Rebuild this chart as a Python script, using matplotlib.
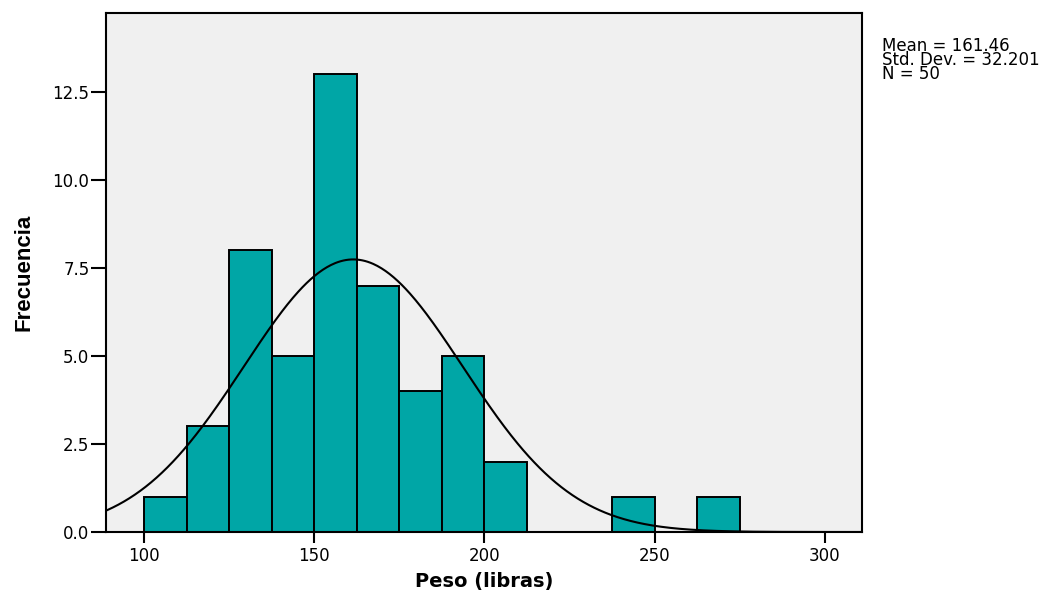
import numpy as np
import matplotlib.pyplot as plt

# Peso (libras) histogram, bin width 12.5
bin_edges = [100, 112.5, 125, 137.5, 150, 162.5, 175, 187.5, 200, 212.5,
             225, 237.5, 250, 262.5, 275]
counts = [1, 3, 8, 5, 13, 7, 4, 5, 2, 0, 0, 1, 0, 1]
mean_w = 161.46
std_w = 32.201
n_obs = 50
y_ticks = [0.0, 2.5, 5.0, 7.5, 10.0, 12.5]
x_ticks = [100, 150, 200, 250, 300]

plt.rcParams["font.family"] = ["DejaVu Sans"]

fig = plt.figure(figsize=(10.49, 5.91), dpi=100)
ax = fig.add_axes([0.1011, 0.0998, 0.7207, 0.878])
ax.set_facecolor("#f0f0f0")

widths = np.diff(bin_edges)
ax.bar(bin_edges[:-1], counts, width=widths, align="edge",
       color="#00a6a6", edgecolor="black", linewidth=1.4, zorder=2)

# normal curve scaled to counts
xs = np.linspace(80, 320, 600)
bw = bin_edges[1] - bin_edges[0]
ys = n_obs * bw / (std_w * np.sqrt(2 * np.pi)) * np.exp(-0.5 * ((xs - mean_w) / std_w) ** 2)
ax.plot(xs, ys, color="black", linewidth=1.5, zorder=3)

ax.set_xlim(88.8, 311)
ax.set_ylim(0, 14.74)
ax.set_xticks(x_ticks)
ax.set_yticks(y_ticks)
ax.set_yticklabels([f"{v:.1f}" for v in y_ticks])
ax.tick_params(axis="both", direction="out", width=1.5, labelsize=12)
ax.tick_params(axis="x", length=8, pad=3)
ax.tick_params(axis="y", length=11, pad=1)
for s in ax.spines.values():
    s.set_linewidth(1.5)

ax.set_xlabel("Peso (libras)", fontsize=14, fontweight="bold", labelpad=5)
ax.set_ylabel("Frecuencia", fontsize=16, fontweight="bold",
              family=["Liberation Sans", "DejaVu Sans"])
ax.yaxis.set_label_coords(-0.094, 0.5)

fig.text(0.841, 0.937,
         f"Mean = {mean_w}\nStd. Dev. = {std_w}\nN = {n_obs}",
         fontsize=12, va="top", ha="left", linespacing=0.7)

fig.savefig("out.png", dpi=100)
